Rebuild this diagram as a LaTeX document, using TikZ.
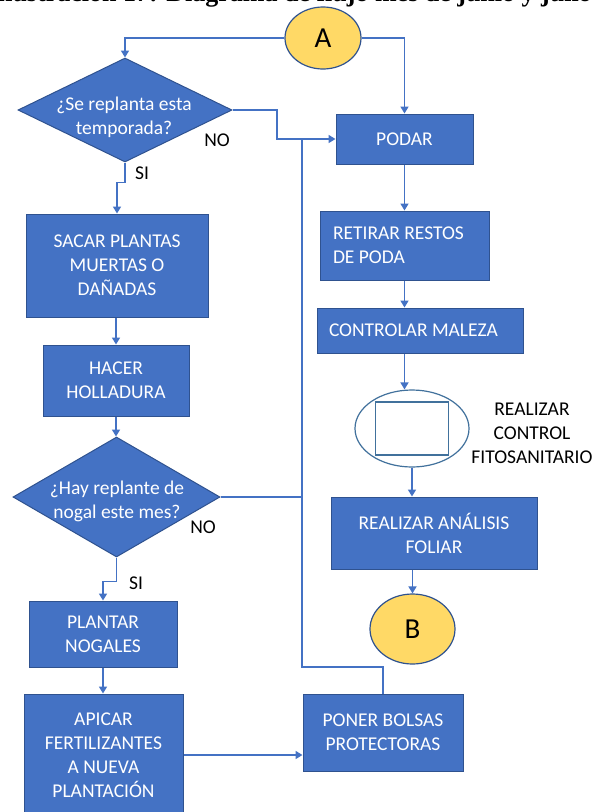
\documentclass[tikz,border=0pt]{standalone}
\usepackage{fontspec}
\setmainfont{Carlito}
\newfontfamily\titlefont{Liberation Serif}
\usetikzlibrary{shapes.geometric,arrows.meta}

\definecolor{boxblue}{RGB}{68,114,196}
\definecolor{boxedge}{RGB}{47,82,143}
\definecolor{flowline}{RGB}{68,114,196}
\definecolor{connyellow}{RGB}{255,217,102}
\definecolor{steeledge}{RGB}{65,113,156}

\tikzset{
  basefont/.style={font=\fontsize{19.5}{24}\selectfont},
  procbox/.style={basefont, rectangle, draw=boxedge, line width=1pt, fill=boxblue,
    text=white, align=center, inner sep=0pt},
  decision/.style={diamond, draw=boxedge, line width=1pt, fill=boxblue, inner sep=0pt},
  dectext/.style={basefont, text=white, align=center, inner sep=0pt},
  offpage/.style={ellipse, draw=boxedge, line width=1.2pt, fill=connyellow, inner sep=0pt,
    font=\fontsize{29}{32}\selectfont},
  answer/.style={basefont, text=black, inner sep=0pt},
  flow/.style={draw=flowline, line width=1.6pt, -{Triangle[length=7pt,width=8pt]}},
  plainline/.style={draw=flowline, line width=1.6pt},
}

\begin{document}
\begin{tikzpicture}[x=1pt,y=-1pt]
\useasboundingbox (0,0) rectangle (592,812);
\fill[white] (0,0) rectangle (592,812);
\clip (0,0) rectangle (592,812);

% heading, cut by the top edge: only its lowest strip stays on the page
\node[anchor=south west, inner sep=0pt, text depth=0pt,
  font=\titlefont\bfseries\fontsize{26}{30}\selectfont]
  (title) at (-5,2) {Ilustración 17: Diagrama de flujo mes de junio y julio};

% off-page connectors
\node[offpage, minimum width=76pt, minimum height=62pt] (A) at (323,38) {A};
\node[offpage, minimum width=85pt, minimum height=70pt] (B) at (412.5,629) {B};

% left column
\node[decision, minimum width=214pt, minimum height=104pt] (q1) at (125,110) {};
\node[dectext] (q1t) at (124,117) {¿Se replanta esta\\temporada?};
\node[answer] (no1) at (217,140) {NO};
\node[answer] (si1) at (142,173) {SI};

\node[procbox, minimum width=182pt, minimum height=103pt] (sacar) at (117,265.5)
  {SACAR PLANTAS\\MUERTAS O\\DAÑADAS};
\node[procbox, minimum width=146pt, minimum height=71pt] (hacer) at (116,380.5)
  {HACER\\HOLLADURA};

\node[decision, minimum width=207pt, minimum height=120pt] (q2) at (116.5,497) {};
\node[dectext] (q2t) at (117,501) {¿Hay replante de\\nogal este mes?};
\node[answer] (no2) at (203,527) {NO};
\node[answer] (si2) at (136,583) {SI};

\node[procbox, minimum width=148pt, minimum height=66pt] (plantar) at (103,634)
  {PLANTAR\\NOGALES};
\node[procbox, minimum width=159pt, minimum height=122pt] (apicar) at (103.5,755)
  {APICAR\\FERTILIZANTES\\A NUEVA\\PLANTACIÓN};

% right column
\node[procbox, minimum width=137pt, minimum height=50pt] (podar) at (404.5,139) {PODAR};
\node[procbox, minimum width=169pt, minimum height=69pt, text width=143pt, align=flush left]
  (retirar) at (404.5,245.5) {RETIRAR RESTOS\\DE PODA};
\node[procbox, minimum width=206pt, minimum height=45pt, text width=182pt, align=flush left]
  (controlar) at (420,330.5) {CONTROLAR MALEZA};

\node[ellipse, draw=steeledge, line width=1.2pt, minimum width=114pt, minimum height=77pt,
  inner sep=0pt] (fito) at (412,428.5) {};
\node[rectangle, draw=steeledge, line width=1.2pt, minimum width=73pt, minimum height=53pt,
  inner sep=0pt] (fitobox) at (fito.center) {};
\node[answer, align=center] (fitolabel) at (532,433) {REALIZAR\\CONTROL\\FITOSANITARIO};

\node[procbox, minimum width=206pt, minimum height=72pt] (analisis) at (434,533)
  {REALIZAR ANÁLISIS\\FOLIAR};
\node[procbox, minimum width=160pt, minimum height=77pt] (poner) at (383,732.5)
  {PONER BOLSAS\\PROTECTORAS};

% bends of the return lines
\coordinate (k1) at (277,110);
\coordinate (trunk) at (302,667);

% connectors
\draw[flow] (A.west) -- (A.west -| q1.north) -- (q1.north);
\draw[flow] (A.east) -- (A.east -| podar.north) -- (podar.north);

\draw[flow] (q1.south) -- ++(0,20) -| (sacar.north);
\draw[plainline] (poner.north) |- (trunk) -- (trunk |- podar.west);
\draw[plainline] (q2.east) -- (q2.east -| trunk);
\draw[flow] (q1.east) -- (k1) |- (podar.west);

\draw[flow] (sacar.south -| hacer.north) -- (hacer.north);
\draw[flow] (hacer.south) -- (hacer.south |- q2.north);
\draw[flow] (q2.south) -- ++(0,24) -| (plantar.north);
\draw[flow] (plantar.south) -- (plantar.south |- apicar.north);
\draw[flow] (apicar.east) -- (apicar.east -| poner.west);

\draw[flow] (podar.south) -- (retirar.north);
\draw[flow] (retirar.south) -- (retirar.south |- controlar.north);
\draw[flow] (retirar.south |- controlar.south) -- (retirar.south |- fito.north);
\draw[flow] (fito.south) -- (fito.south |- analisis.north);
\draw[flow] (analisis.south -| B.north) -- (B.north);
\end{tikzpicture}
\end{document}
